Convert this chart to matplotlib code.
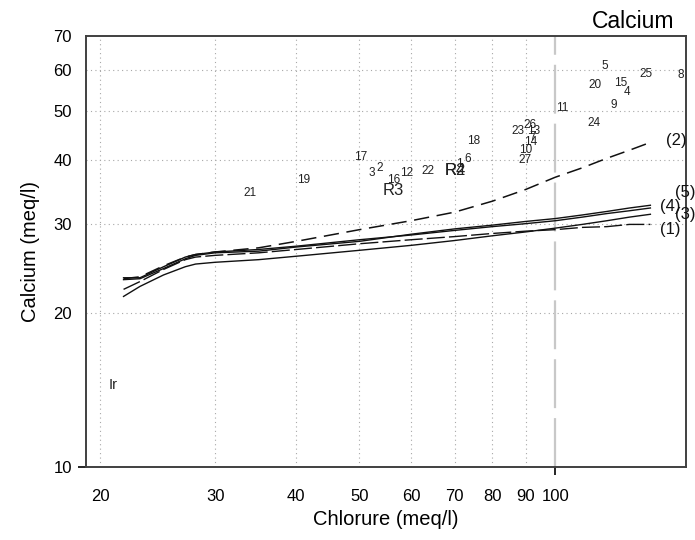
import matplotlib
matplotlib.use("Agg")
import matplotlib.pyplot as plt
from matplotlib.ticker import FixedLocator, NullLocator, FixedFormatter

plt.rcParams['font.family'] = ['Liberation Sans', 'DejaVu Sans']

# ---- data ----
chlorure = [21.7, 23, 25, 27, 28, 30, 35, 40, 50, 60, 70, 80, 90, 100, 110, 120, 130, 140]
curve1 = [22.3, 23.1, 24.4, 25.5, 25.8, 26.0, 26.3, 26.7, 27.4, 27.9, 28.3, 28.7, 29.0, 29.2, 29.5, 29.6, 29.9, 29.9]
curve2 = [23.4, 23.6, 24.8, 25.8, 26.1, 26.4, 26.9, 27.7, 29.2, 30.4, 31.6, 33.2, 35.0, 37.0, 38.6, 40.3, 41.8, 43.3]
curve3 = [21.6, 22.6, 23.8, 24.7, 25.0, 25.2, 25.5, 25.9, 26.6, 27.2, 27.8, 28.4, 28.9, 29.4, 29.9, 30.4, 30.9, 31.3]
curve4 = [23.5, 23.5, 24.7, 25.8, 26.1, 26.4, 26.7, 27.1, 27.9, 28.5, 29.1, 29.6, 30.0, 30.4, 30.9, 31.4, 31.8, 32.2]
curve5 = [23.3, 23.4, 24.5, 25.6, 26.0, 26.3, 26.5, 27.0, 27.7, 28.6, 29.3, 29.8, 30.3, 30.7, 31.2, 31.7, 32.2, 32.6]

curve_labels = ["(1)", "(2)", "(3)", "(4)", "(5)"]
curve_label_x = [145, 148, 153, 145, 153]
curve_label_y = [29.2, 43.6, 31.2, 32.4, 34.6]

pt_labels = ["5", "20", "15", "4", "25", "8", "9", "11", "24", "26", "23", "13", "7", "14",
             "10", "27", "18", "6", "1", "17", "3", "2", "16", "12", "22", "19", "21"]
pt_x = [119.3, 115.2, 125.9, 129.0, 138.0, 156.0, 122.8, 102.5, 114.8, 91.5, 87.7, 92.5, 92.2, 91.5,
        89.9, 89.9, 74.8, 73.3, 71.2, 50.2, 52.2, 53.7, 56.4, 59.0, 63.8, 41.0, 33.9]
pt_y = [61.1, 56.1, 56.6, 54.4, 59.0, 58.8, 51.3, 50.6, 47.3, 46.8, 45.6, 45.6, 44.4, 43.4,
        41.8, 40.0, 43.6, 40.2, 39.3, 40.5, 37.7, 38.6, 36.5, 37.7, 38.1, 36.5, 34.5]

ref_labels = ["R2", "R4", "R3"]
ref_x = [70.2, 70.2, 56.4]
ref_y = [38.2, 38.2, 34.9]

ir_label = "Ir"
ir_x, ir_y = 20.6, 14.5

xticks = [20, 30, 40, 50, 60, 70, 80, 90, 100]
yticks = [10, 20, 30, 40, 50, 60, 70]

# ---- figure ----
fig = plt.figure(figsize=(6.95, 5.4), dpi=100)
ax = fig.add_axes([86/695, 73/540, 600/695, 431/540])
ax.set_xscale('log')
ax.set_yscale('log')
ax.set_xlim(19, 158.8)
ax.set_ylim(10, 70)

# grid
for xv in xticks[:-1]:
    ax.axvline(xv, color='#a8a8a8', lw=0.8, ls=(0, (1, 3)), zorder=0)
for yv in yticks[1:-1]:
    ax.axhline(yv, color='#a8a8a8', lw=0.8, ls=(0, (1, 3)), zorder=0)
ax.axvline(100, color='#c8c8c8', lw=1.6, ls=(0, (22, 4.5)), zorder=0.5)

lc = '#111111'
ax.plot(chlorure, curve3, color=lc, lw=1.0)
ax.plot(chlorure, curve4, color=lc, lw=1.0)
ax.plot(chlorure, curve5, color=lc, lw=1.0)
ax.plot(chlorure, curve1, color=lc, lw=1.0, ls=(0, (13, 3)))
ax.plot(chlorure, curve2, color=lc, lw=1.1, ls=(0, (10, 5)))

for t, x, y in zip(curve_labels, curve_label_x, curve_label_y):
    ax.text(x, y, t, fontsize=12, ha='left', va='center', color='#111111')

for t, x, y in zip(pt_labels, pt_x, pt_y):
    ax.text(x, y, t, fontsize=8.5, ha='center', va='center', color='#222222')

for t, x, y in zip(ref_labels, ref_x, ref_y):
    ax.text(x, y, t, fontsize=12, ha='center', va='center', color='#222222')

ax.text(ir_x, ir_y, ir_label, fontsize=10.5, ha='left', va='center', color='#222222')

# ticks
ax.xaxis.set_major_locator(FixedLocator(xticks))
ax.xaxis.set_major_formatter(FixedFormatter([str(v) for v in xticks]))
ax.xaxis.set_minor_locator(NullLocator())
ax.yaxis.set_major_locator(FixedLocator(yticks))
ax.yaxis.set_major_formatter(FixedFormatter([str(v) for v in yticks]))
ax.yaxis.set_minor_locator(NullLocator())
ax.tick_params(axis='x', length=0, pad=16, labelsize=12)
ax.tick_params(axis='y', length=0, pad=10, labelsize=12)
fig.canvas.draw()
for tk in ax.xaxis.get_major_ticks():
    if tk.get_loc() == 100:
        tk.tick1line.set_markersize(6)
        tk.tick1line.set_markeredgewidth(1.2)
for tk in ax.yaxis.get_major_ticks():
    if tk.get_loc() == 10:
        tk.tick1line.set_markersize(6)
        tk.tick1line.set_markeredgewidth(1.2)

for s in ax.spines.values():
    s.set_color('#404040')
    s.set_linewidth(1.4)

ax.set_xlabel("Chlorure (meq/l)", fontsize=14.5)
ax.xaxis.set_label_coords(0.5, -0.121)
ax.xaxis.label.set_va('center')
ax.set_ylabel("Calcium (meq/l)", fontsize=14.5)
ax.yaxis.set_label_coords(-0.093, 0.5)
ax.yaxis.label.set_va('center')

fig.text(0.911, 0.961, "Calcium", fontsize=16.5, ha='center', va='center')

fig.savefig("out.png", dpi=100)
